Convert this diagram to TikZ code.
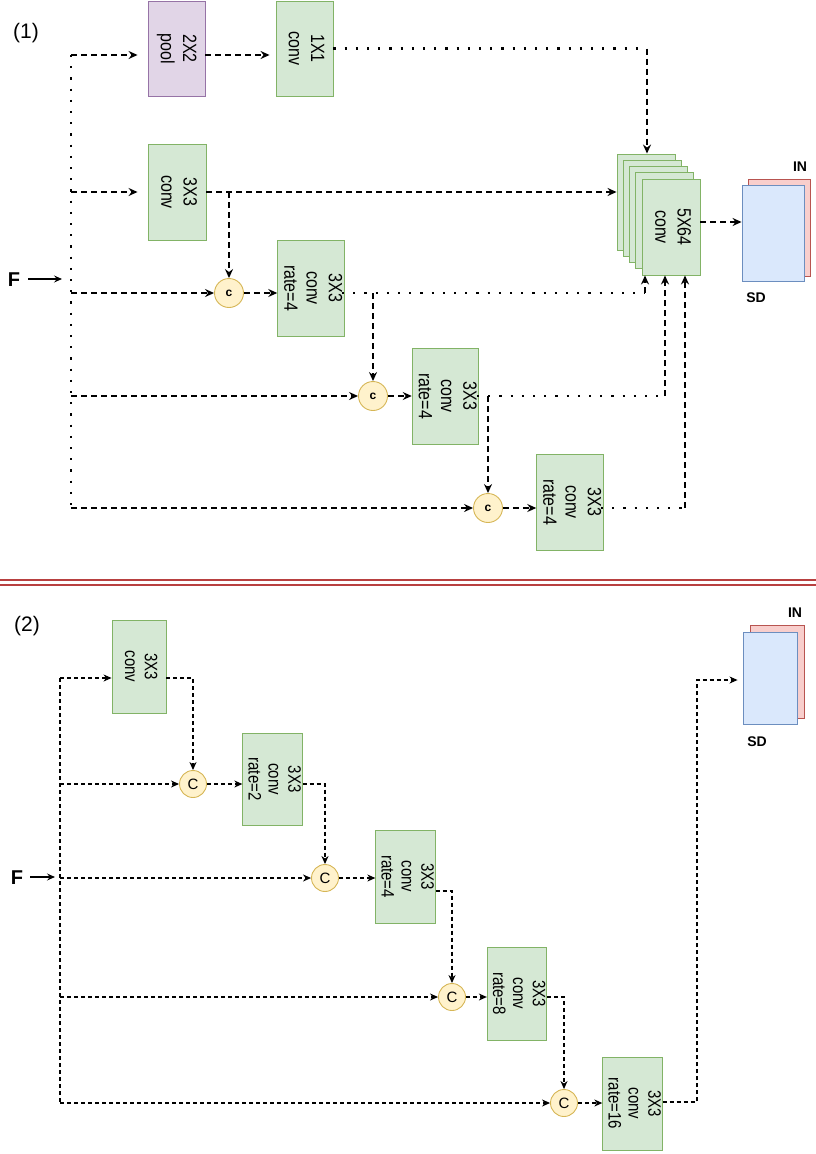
\documentclass[tikz,border=0pt]{standalone}
\usepackage{fontspec}
\setmainfont{Liberation Sans}
\usepackage{graphicx}
\usetikzlibrary{arrows.meta}
\definecolor{gfill}{HTML}{D5E8D4}\definecolor{gdraw}{HTML}{82B366}
\definecolor{pfill}{HTML}{E1D5E7}\definecolor{pdraw}{HTML}{9673A6}
\definecolor{yfill}{HTML}{FFF2CC}\definecolor{ydraw}{HTML}{D6B656}
\definecolor{bfill}{HTML}{DAE8FC}\definecolor{bdraw}{HTML}{6C8EBF}
\definecolor{rfill}{HTML}{F8CECC}\definecolor{rdraw}{HTML}{B85450}
\definecolor{sepred}{HTML}{B84040}
\newcommand\rtxt[1]{\rotatebox{-90}{\scalebox{1}[1.2]{\begin{tabular}{@{}c@{}}#1\end{tabular}}}}
\tikzset{
  gbox/.style={draw=gdraw, fill=gfill, line width=0.9pt, inner sep=0pt, font=\fontsize{16}{18.5}\selectfont},
  gboxs/.style={gbox, font=\fontsize{15}{16.5}\selectfont},
  pbox/.style={draw=pdraw, fill=pfill, line width=0.9pt, inner sep=0pt, font=\fontsize{16}{18.5}\selectfont},
  sdbox/.style={draw=bdraw, fill=bfill, line width=0.9pt, inner sep=0pt},
  inbox/.style={draw=rdraw, fill=rfill, line width=0.9pt, inner sep=0pt},
  cir/.style={circle, draw=ydraw, fill=yfill, line width=0.9pt, minimum size=29pt, inner sep=0pt, font=\bfseries\fontsize{12}{12}\selectfont},
  cirs/.style={circle, draw=ydraw, fill=yfill, line width=0.9pt, minimum size=27pt, inner sep=0pt, font=\fontsize{15}{15}\selectfont},
  lbl/.style={inner sep=0pt, font=\bfseries\fontsize{14}{14}\selectfont},
  ttl/.style={inner sep=0pt, font=\fontsize{21}{21}\selectfont},
  flbl/.style={inner sep=0pt, font=\bfseries\fontsize{20}{20}\selectfont},
  Lone/.style={line width=1.6pt},
  dshA/.style={Lone, dash pattern=on 6pt off 4pt},
  dotA/.style={line width=2.2pt, dash pattern=on 2.2pt off 9pt},
  arA/.style={-{Stealth[length=9pt,width=8pt,inset=3pt]}},
  dshB/.style={line width=1.1pt, dash pattern=on 4pt off 3pt},
  arB/.style={-{Stealth[length=8pt,width=7pt,inset=2.5pt]}},
  farr/.style={line width=1.3pt, -{Stealth[length=8pt,width=7pt,inset=3pt]}}
}
\begin{document}
\begin{tikzpicture}[x=1pt,y=-1pt]
\useasboundingbox (0,0) rectangle (816,1154);
% ================= Part 1 =================
\node[ttl] (t1) at (26,33) {(1)};
\node[pbox, minimum width=57pt, minimum height=95pt] (pool) at (176.5,48.5) {\rtxt{2X2\\pool}};
\node[gbox, minimum width=57pt, minimum height=95pt] (c11) at (304.5,48.5) {\rtxt{1X1\\conv}};
\node[gbox, minimum width=58pt, minimum height=96pt] (c33) at (177,192) {\rtxt{3X3\\conv}};
\node[gbox, minimum width=62pt, minimum height=96pt] (b2) at (311,288) {\rtxt{3X3\\conv\\rate=4}};
\node[gbox, minimum width=63pt, minimum height=96pt] (b3) at (445.5,396) {\rtxt{3X3\\conv\\rate=4}};
\node[gbox, minimum width=62pt, minimum height=96pt] (b4) at (570,502) {\rtxt{3X3\\conv\\rate=4}};
\node[cir] (cA) at (229,293) {c};
\node[cir] (cB) at (373,396) {c};
\node[cir] (cC) at (488,508) {c};
% stack
\node[gbox, minimum width=58pt, minimum height=96pt] (st0) at (646,202) {};
\node[gbox, minimum width=58pt, minimum height=96pt] (st1) at (652.25,208.25) {};
\node[gbox, minimum width=58pt, minimum height=96pt] (st2) at (658.5,214.5) {};
\node[gbox, minimum width=58pt, minimum height=96pt] (st3) at (664.75,220.75) {};
\node[gbox, minimum width=58pt, minimum height=96pt] (st4) at (671,227) {\rtxt{5X64\\conv}};
% output maps
\node[inbox, minimum width=62pt, minimum height=97pt] (in1) at (779,227.5) {};
\node[sdbox, minimum width=62pt, minimum height=96pt] (sd1) at (773,233) {};
\node[lbl] (inl1) at (800,167) {IN};
\node[lbl] (sdl1) at (756,298) {SD};
% input F
\node[flbl] (f1) at (14,280) {F};
\coordinate (fa1) at (28,279);
\coordinate (fb1) at (62,279);
\draw[farr] (fa1) -- (fb1);
% trunk
\coordinate (va) at (71,55);
\coordinate (vb) at (71,192);
\coordinate (vc) at (71,293);
\coordinate (vd) at (71,396);
\coordinate (ve) at (71,508);
\draw[dotA] (va) -- (ve);
\draw[dshA,arA,shorten >=10pt] (va) -- (va -| pool.west);
\draw[dshA,arA,shorten >=6pt] (pool.east |- va) -- (va -| c11.west);
\draw[dshA,arA,shorten >=10pt] (vb) -- (vb -| c33.west);
\draw[dshA,arA] (vc) -- (cA.west);
\draw[dshA,arA] (vd) -- (cB.west);
\draw[dshA,arA] (ve) -- (cC.west);
\draw[dshA,arA] (cA.east) -- (cA.east -| b2.west);
\draw[dshA,arA] (cB.east) -- (cB.east -| b3.west);
\draw[dshA,arA] (cC.east) -- (cC.east -| b4.west);
% outputs into stack
\coordinate (k1) at (647,48.5);
\draw[dotA] (c11.east) -- (k1);
\draw[dshA,arA] (k1) -- (k1 |- st0.north);
\draw[dshA,arA] (c33.east) -- (c33.east -| st0.west);
\coordinate (j1) at (229,192);
\draw[dshA,arA] (j1) -- (cA.north);
\coordinate (o2) at (342,293);
\coordinate (k2) at (645,293);
\draw[dotA] (o2) -- (k2);
\draw[dshA,arA] (k2) -- (k2 |- st4.south);
\coordinate (j2) at (373,293);
\draw[dshA,arA] (j2) -- (cB.north);
\coordinate (o3) at (477,396);
\coordinate (k3) at (665,396);
\draw[dotA] (o3) -- (k3);
\draw[dshA,arA] (k3) -- (k3 |- st4.south);
\coordinate (j3) at (488,396);
\draw[dshA,arA] (j3) -- (cC.north);
\coordinate (o4) at (601,508);
\coordinate (k4) at (685,508);
\draw[dotA] (o4) -- (k4);
\draw[dshA,arA] (k4) -- (k4 |- st4.south);
\coordinate (q1) at (700,222);
\draw[dshA,arA] (q1) -- (q1 -| sd1.west);
% ================= separator =================
\coordinate (sa) at (0,580);
\coordinate (sb) at (816,580);
\coordinate (sc) at (0,585);
\coordinate (sd) at (816,585);
\draw[sepred, line width=2pt] (sa) -- (sb);
\draw[sepred, line width=2pt] (sc) -- (sd);
% ================= Part 2 =================
\node[ttl] (t2) at (27,626) {(2)};
\node[gboxs, minimum width=54pt, minimum height=93pt] (p1) at (139,666.5) {\rtxt{3X3\\conv}};
\node[gboxs, minimum width=53pt, minimum height=92pt] (p2) at (272.5,779) {\rtxt{3X3\\conv\\rate=2}};
\node[gboxs, minimum width=53pt, minimum height=93pt] (p3) at (405.5,876.5) {\rtxt{3X3\\conv\\rate=4}};
\node[gboxs, minimum width=54pt, minimum height=93pt] (p4) at (517,993.5) {\rtxt{3X3\\conv\\rate=8}};
\node[gboxs, minimum width=53pt, minimum height=93pt] (p5) at (632.5,1103.5) {\rtxt{3X3\\conv\\rate=16}};
\node[cirs] (d1) at (193,784) {C};
\node[cirs] (d2) at (325,878) {C};
\node[cirs] (d3) at (452,997) {C};
\node[cirs] (d4) at (564,1103) {C};
\node[inbox, minimum width=54pt, minimum height=93pt] (in2) at (777,671.5) {};
\node[sdbox, minimum width=54pt, minimum height=92pt] (sd2) at (770,678) {};
\node[lbl] (inl2) at (795,613) {IN};
\node[lbl] (sdl2) at (757,742) {SD};
\node[flbl] (f2) at (17,878) {F};
\coordinate (fa2) at (30,877);
\coordinate (fb2) at (55,877);
\draw[farr] (fa2) -- (fb2);
\coordinate (wa) at (60,678);
\coordinate (wb) at (60,784);
\coordinate (wc) at (60,878);
\coordinate (wd) at (60,997);
\coordinate (we) at (60,1103);
\draw[dshB] (wa) -- (we);
\draw[dshB,arB] (wa) -- (wa -| p1.west);
\draw[dshB,arB] (wb) -- (d1.west);
\draw[dshB,arB] (wc) -- (d2.west);
\draw[dshB,arB] (wd) -- (d3.west);
\draw[dshB,arB] (we) -- (d4.west);
\draw[dshB,arB] (d1.east) -- (d1.east -| p2.west);
\draw[dshB,arB] (d2.east) -- (d2.east -| p3.west);
\draw[dshB,arB] (d3.east) -- (d3.east -| p4.west);
\draw[dshB,arB] (d4.east) -- (d4.east -| p5.west);
\coordinate (m1) at (193,678);
\draw[dshB,arB] (p1.east |- m1) -- (m1) -- (d1.north);
\coordinate (m2) at (325,784);
\draw[dshB,arB] (p2.east |- m2) -- (m2) -- (d2.north);
\coordinate (m3) at (452,891);
\draw[dshB,arB] (p3.east |- m3) -- (m3) -- (d3.north);
\coordinate (m4) at (564,997);
\draw[dshB,arB] (p4.east |- m4) -- (m4) -- (d4.north);
\coordinate (m5) at (697,1102);
\coordinate (m6) at (697,680);
\draw[dshB,arB,shorten >=5pt] (p5.east |- m5) -- (m5) -- (m6) -- (m6 -| sd2.west);
\end{tikzpicture}
\end{document}
